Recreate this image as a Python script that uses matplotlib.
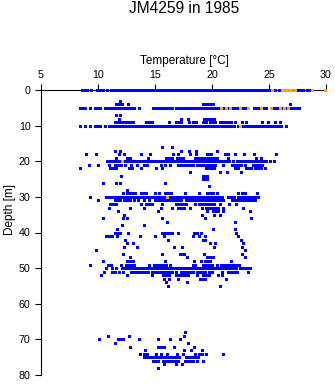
import matplotlib
matplotlib.use("Agg")
import matplotlib.pyplot as plt
import numpy as np

plt.rcParams['font.family'] = ['Liberation Sans', 'DejaVu Sans']

title = "JM4259 in 1985"
xlabel = "Temperature [°C]"
ylabel = "Depth [m]"
xticks = [5, 10, 15, 20, 25, 30]
yticks = [0, 10, 20, 30, 40, 50, 60, 70, 80]

# Blue samples: temperature values at each depth (m)
t00 = [8.6, 8.8, 9.0, 9.35, 9.95, 10.2, 10.45, 10.8, 11.15, 11.4, 11.65, 11.9, 12.15, 12.4, 12.65, 12.9, 13.15, 13.4,
       13.7, 13.95, 14.2, 14.45, 14.7, 14.95, 15.2, 15.45, 15.7, 15.95, 16.2, 16.45, 16.7, 16.95, 17.2, 17.45, 17.7,
       17.95, 18.2, 18.45, 18.7, 18.95, 19.2, 19.45, 19.7, 19.95, 20.2, 20.45, 20.7, 20.95, 21.2, 21.45, 21.7, 21.95,
       22.2, 22.45, 22.7, 22.95, 23.2, 23.45, 23.7, 23.95, 24.2, 24.45, 24.7, 24.95, 25.2, 25.55, 25.85, 26.95, 27.5,
       27.75, 28.0, 28.3, 28.55]
t03 = [11.93]
t04 = [11.6, 11.85, 12.1, 12.66, 19.2, 19.45, 19.7, 19.9, 20.1, 26.8]
t05 = [8.45, 8.65, 8.86, 9.34, 9.75, 10.0, 10.2, 10.6, 10.9, 11.15, 11.4, 11.65, 11.9, 12.15, 12.4, 12.65, 12.9, 13.15,
       13.6, 14.8, 15.05, 15.3, 15.5, 15.7, 15.95, 16.2, 16.45, 16.87, 17.1, 17.35, 17.6, 17.85, 18.1, 18.35, 18.6, 18.8,
       19.05, 19.3, 19.55, 19.8, 20.05, 20.3, 20.55, 21.0, 21.4, 21.85, 22.1, 22.3, 22.6, 22.8, 23.0, 23.7, 23.9, 24.1,
       24.5, 24.7, 25.35, 25.6, 25.85, 26.2, 26.5, 26.85, 27.1, 27.35, 27.6]
t07 = [11.6, 11.9]
t08 = [11.85, 17.3, 17.9, 19.3, 19.55, 19.8, 20.0, 20.2]
t09 = [11.5, 11.75, 12.05, 12.3, 12.5, 12.8, 13.1, 14.2, 14.5, 14.7, 16.2, 16.8, 17.05, 17.25, 18.0, 18.3, 18.6, 19.2,
       19.5, 19.8, 20.05, 20.3, 20.7, 20.95, 21.2, 21.45, 21.7, 22.0, 22.6, 23.0, 24.4, 24.9, 25.5, 26.0]
t10 = [8.4, 8.86, 9.34, 9.75, 10.0, 10.2, 10.6, 11.0, 11.25, 11.5, 11.75, 12.0, 12.25, 12.5, 12.75, 13.0, 13.25, 13.45,
       13.7, 13.95, 14.2, 14.45, 14.75, 14.95, 15.2, 15.45, 15.7, 15.95, 16.2, 16.45, 16.75, 16.95, 17.2, 17.45, 17.7,
       17.95, 18.2, 18.45, 18.7, 18.95, 19.2, 19.45, 19.7, 19.95, 20.2, 20.45, 20.7, 20.95, 21.2, 21.45, 21.7, 21.95,
       22.25, 22.65, 22.9, 23.15, 23.4, 23.65, 23.9, 24.15, 24.4, 24.65, 24.9, 25.15, 25.4, 25.65, 25.9, 26.05, 26.45]
t16 = [15.64, 16.5]
t17 = [11.5, 11.9, 17.3, 18.0, 18.6, 20.4]
t18 = [8.95, 9.85, 11.85, 12.25, 13.8, 14.56, 16.6, 17.0, 18.05, 18.6, 19.6, 19.8, 19.95, 21.1, 21.4, 22.0, 22.85, 23.65,
       25.6]
t19 = [11.6, 12.5, 12.8, 14.4, 16.0, 16.25, 16.5, 16.9, 17.2, 17.45, 18.5, 18.8, 19.05, 19.3, 19.55, 19.8, 20.05, 20.2,
       20.45, 21.4, 23.9, 24.3]
t20 = [10.8, 11.05, 11.3, 11.5, 11.75, 12.0, 12.3, 12.55, 12.8, 13.05, 13.3, 13.5, 13.75, 14.0, 14.25, 14.5, 14.75,
       15.0, 15.25, 15.5, 15.75, 16.0, 16.25, 16.5, 16.75, 17.0, 17.25, 17.5, 17.75, 18.0, 18.25, 18.5, 18.75, 19.0,
       19.25, 19.5, 19.75, 20.0, 20.25, 20.5, 20.75, 21.0, 21.25, 21.5, 21.85, 22.2, 22.45, 22.7, 22.95, 23.2, 23.45,
       23.7, 23.95, 24.2, 24.45, 24.7, 25.1, 25.45]
t21 = [9.2, 10.0, 11.0, 11.5, 11.75, 12.0, 12.4, 12.9, 13.4, 14.0, 14.3, 15.5, 15.9, 16.3, 17.0, 17.3, 17.55, 17.8,
       18.05, 18.3, 18.7, 18.95, 19.2, 19.3, 19.55, 19.8, 20.05, 20.3, 21.0, 21.75, 22.0, 22.25, 22.5, 22.9, 23.6,
       23.85, 24.1, 24.4]
t22 = [8.45, 11.05, 11.35, 11.6, 12.7, 13.0, 13.8, 15.06, 15.6, 19.5, 19.75, 20.0, 20.15, 22.0, 22.3, 23.0, 23.2, 23.4,
       23.8, 24.05, 24.3, 24.65]
t23 = [18.1, 20.7, 21.35, 22.5]
t24 = [12.0, 19.2, 19.4, 19.6]
t25 = [19.2, 19.45, 19.6]
t26 = [10.4, 11.6, 11.9, 15.9]
t27 = [19.7]
t28 = [12.5]
t29 = [12.2, 12.55, 12.8, 13.05, 13.25, 13.8, 14.0, 14.2, 15.0, 15.35, 15.9, 16.15, 16.4, 17.65, 18.9, 19.6, 19.85,
       20.1, 20.4, 22.3, 22.6, 22.9, 23.95]
t30 = [9.3, 10.7, 10.9, 11.15, 11.4, 11.65, 11.9, 12.15, 12.4, 12.65, 12.9, 13.15, 13.4, 13.65, 13.9, 14.15, 14.4,
       14.6, 14.85, 15.1, 15.35, 15.6, 15.85, 16.25, 16.5, 16.75, 17.0, 17.25, 17.5, 17.75, 18.0, 18.25, 18.5, 18.75,
       19.0, 19.25, 19.5, 19.75, 20.0, 20.25, 20.5, 20.75, 20.9, 21.4, 21.65, 21.9, 22.3, 22.55, 22.8, 23.0, 23.25,
       23.5, 23.75, 24.05]
t31 = [10.0, 11.5, 11.75, 11.9, 12.3, 12.55, 12.8, 13.15, 13.5, 14.0, 14.5, 15.0, 15.25, 15.5, 15.75, 16.0, 16.25,
       16.4, 16.7, 16.95, 17.2, 17.3, 17.7, 17.95, 18.2, 18.45, 18.7, 18.95, 19.2, 19.45, 19.7, 19.95, 20.2, 20.4,
       20.7, 21.0, 21.75, 22.0, 22.2, 22.4, 22.65, 22.9, 23.15, 23.4, 23.6, 23.8]
t32 = [11.05, 11.35, 11.6, 13.75, 14.2, 14.45, 14.7, 15.6, 16.8, 17.05, 17.3, 17.45, 17.7, 18.55, 18.85, 19.1, 19.35,
       19.6, 19.85, 20.05, 20.2, 20.7, 21.45, 22.1]
t33 = [11.0, 12.8, 14.0, 15.5, 16.5, 17.0, 17.3, 17.55, 18.1, 19.1, 19.5, 19.75, 20.0, 20.25, 20.5, 21.0, 22.7]
t34 = [11.75, 15.25, 19.6, 20.1, 20.3, 20.5, 20.95, 23.3]
t35 = [12.3, 19.1, 20.2, 20.7]
t36 = [10.4, 12.2, 12.55, 15.6, 19.4, 23.4]
t37 = [16.05, 22.0]
t38 = [12.1, 14.06]
t39 = [11.7, 20.1, 22.0]
t40 = [11.5, 11.75, 11.9, 12.6, 15.6, 15.85, 16.1, 16.3, 16.5, 17.0, 18.4, 18.7, 19.0, 22.1]
t41 = [10.7, 10.95, 11.2, 11.7, 13.7, 15.0, 15.8, 18.35, 18.85, 19.4, 22.3]
t42 = [12.4, 16.1, 19.2, 19.4, 22.5]
t43 = [12.55, 13.1, 19.8, 20.3, 22.7]
t44 = [12.25, 13.45, 16.7, 17.4, 20.15, 22.6]
t45 = [9.85, 22.9]
t46 = [12.2, 15.64, 17.2, 17.4, 17.55, 19.3, 22.6]
t47 = [12.8, 17.8, 19.6, 19.85, 20.1, 22.9]
t48 = [10.4, 12.5, 12.8, 13.1, 15.9, 18.4, 19.0, 19.4, 19.65, 19.85, 21.7]
t49 = [9.3, 10.9, 11.1, 12.0, 12.45, 12.7, 12.95, 13.2, 14.5, 14.9, 15.15, 15.45, 15.5, 15.75, 16.0, 16.3, 18.3, 18.5,
       19.2, 19.45, 19.7, 20.0, 20.4, 20.8, 21.05, 21.3, 21.4, 21.6, 21.85, 22.05, 22.2, 22.4]
t50 = [10.7, 11.2, 11.6, 12.1, 12.35, 12.6, 12.85, 13.1, 13.35, 13.6, 13.85, 14.1, 14.35, 14.6, 14.85, 15.1, 15.35,
       15.6, 15.85, 16.1, 16.35, 16.6, 16.85, 17.1, 17.35, 17.6, 17.85, 18.1, 18.35, 18.6, 18.85, 19.1, 19.35, 19.6,
       19.85, 20.1, 20.3, 20.55, 20.8, 21.05, 21.3, 21.55, 21.8, 22.1, 22.45, 22.7, 22.95, 23.2, 23.3]
t51 = [10.5, 11.25, 11.5, 11.8, 12.2, 12.9, 13.15, 13.4, 13.65, 13.9, 14.15, 14.4, 14.7, 15.0, 15.25, 15.5, 15.75,
       16.0, 16.25, 16.5, 16.85, 17.3, 17.55, 17.8, 18.05, 18.35, 18.65, 18.9, 19.15, 19.4, 19.7, 20.0, 20.9, 21.4,
       21.65, 21.9, 22.2, 23.15]
t52 = [10.3, 12.55, 14.7, 15.7, 15.95, 16.2, 16.85, 17.0, 17.25, 17.5, 17.7, 17.9, 18.7, 19.2, 19.45, 19.7, 20.55, 20.9]
t53 = [15.8, 16.25, 17.0, 18.95, 19.2, 19.4, 21.25]
t54 = [16.0, 17.8]
t55 = [16.1, 20.7]
t68 = [17.6]
t69 = [10.9, 12.7, 17.55]
t70 = [10.1, 11.75, 12.0, 12.2, 13.6, 15.27, 16.3, 17.2]
t71 = [11.45, 17.9]
t72 = [12.8, 15.3, 15.55, 15.8, 16.7, 18.4]
t73 = [14.15, 17.55, 18.2, 19.15]
t74 = [13.7, 14.0, 14.3, 15.05, 15.5, 16.05, 16.95, 17.45, 18.5, 18.85, 19.15, 19.5, 21.0]
t75 = [14.0, 14.3, 14.55, 14.85, 15.1, 15.35, 15.6, 15.85, 16.1, 16.35, 16.6, 16.8, 17.1, 17.7, 18.0, 18.25, 18.5,
       18.8]
t76 = [14.85, 15.1, 15.3, 15.7, 15.95, 16.2, 16.3, 16.55, 16.8, 17.0, 17.6, 17.9, 18.15, 18.35, 18.7, 19.25]
t77 = [15.8, 16.85, 17.35]
t78 = [15.27]

blue_depths = [0, 3, 4, 5, 7, 8, 9, 10, 16, 17, 18, 19, 20, 21, 22, 23, 24, 25, 26, 27, 28, 29, 30, 31, 32, 33, 34,
               35, 36, 37, 38, 39, 40, 41, 42, 43, 44, 45, 46, 47, 48, 49, 50, 51, 52, 53, 54, 55, 68, 69, 70, 71,
               72, 73, 74, 75, 76, 77, 78]
blue_temps = [t00, t03, t04, t05, t07, t08, t09, t10, t16, t17, t18, t19, t20, t21, t22, t23, t24, t25, t26, t27,
              t28, t29, t30, t31, t32, t33, t34, t35, t36, t37, t38, t39, t40, t41, t42, t43, t44, t45, t46, t47,
              t48, t49, t50, t51, t52, t53, t54, t55, t68, t69, t70, t71, t72, t73, t74, t75, t76, t77, t78]

# Orange samples
o00 = [25.3, 26.15, 26.4, 26.65, 26.9, 27.3, 28.8, 29.9]
o05 = [20.8, 21.2, 21.6, 22.45, 23.15, 24.3, 25.2, 26.0, 26.3, 26.7]
o10 = [22.45]
o20 = [12.13]
o30 = [16.05]
orange_depths = [0, 5, 10, 20, 30]
orange_temps = [o00, o05, o10, o20, o30]

W, H = 335, 384
fig = plt.figure(figsize=(W / 100, H / 100), dpi=100)
ax = fig.add_axes([41 / W, 9 / H, 285 / W, 285 / H])

bx, by = [], []
for d, ts in zip(blue_depths, blue_temps):
    bx.extend(ts)
    by.extend([d] * len(ts))
ox, oy = [], []
for d, ts in zip(orange_depths, orange_temps):
    ox.extend(ts)
    oy.extend([d] * len(ts))

ms = 2.16
ax.plot(bx, by, ls='none', marker='s', ms=ms, mew=0, color='#0000ff', clip_on=False, zorder=3, snap=False)
ax.plot(ox, oy, ls='none', marker='s', ms=ms, mew=0, color='#ffa500', clip_on=False, zorder=4, snap=False)

ax.set_xlim(5, 30)
ax.set_ylim(80, 0)
ax.xaxis.tick_top()
ax.set_xticks(xticks)
ax.set_yticks(yticks)
ax.tick_params(axis='both', direction='out', length=4, width=0.8, labelsize=7.7, color='black')
ax.tick_params(axis='x', pad=3.5)
ax.tick_params(axis='y', pad=3.5)
for s in ['right', 'bottom']:
    ax.spines[s].set_visible(False)
for s in ['left', 'top']:
    ax.spines[s].set_linewidth(0.8)
ax.patch.set_alpha(0)

fig.text(184 / W, 1 - 12.7 / H, title, ha='center', va='baseline', fontsize=11.2)
fig.text(184.5 / W, 1 - 64 / H, xlabel, ha='center', va='baseline', fontsize=8.5)
fig.text(10 / W, 1 - 232 / H, ylabel, ha='center', va='baseline', rotation=90, fontsize=8.5)

fig.savefig("out.png", dpi=100)
